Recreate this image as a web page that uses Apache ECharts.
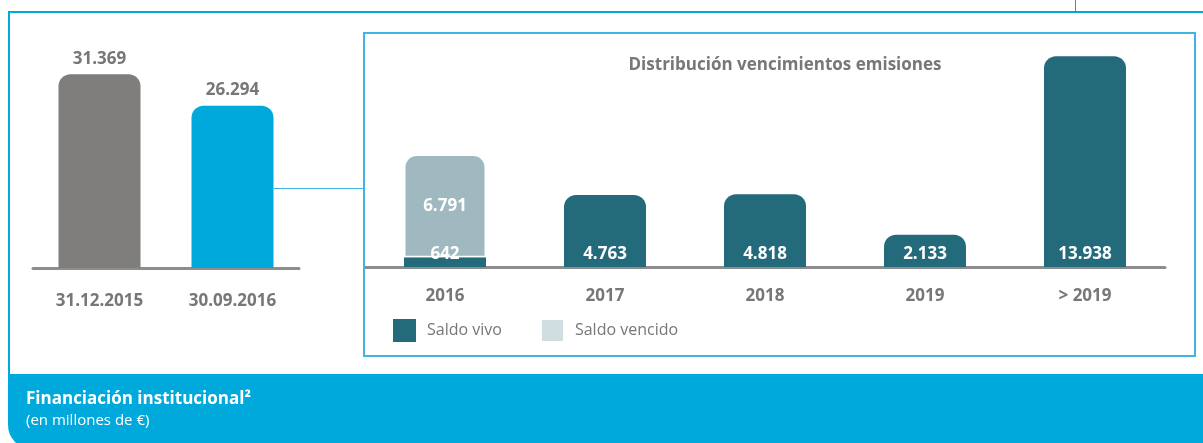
<!DOCTYPE html>
<html>
<head>
<meta charset="utf-8">
<script src="https://cdn.jsdelivr.net/npm/echarts@6/dist/echarts.min.js"></script>
<style>
  html, body { margin: 0; padding: 0; background: #fff; }
  #chart { width: 1203px; height: 443px; }
</style>
</head>
<body>
<div id="chart"></div>
<script>
// left: total balance
const leftCats = ['31.12.2015', '30.09.2016']
const leftValues = [31369, 26294]
// right: maturities
const rightCats = ['2016', '2017', '2018', '2019', '> 2019']
const vivoValues = [642, 4763, 4818, 2133, 13938]
const vencidoValues = [6791, null, null, null, null]

const FONT = '"Open Sans", "Noto Sans", sans-serif'
const GREY_TXT = '#787776'
const TEAL = '#236a7b'
const CYAN = '#00a9dc'

function fmt(v) {
  return String(v).replace(/\B(?=(\d{3})+(?!\d))/g, '.')
}

const chart = echarts.init(document.getElementById('chart'))

const leftColors = ['#7f7e7c', CYAN]

const option = {
  animation: false,
  textStyle: { fontFamily: FONT },
  title: [{
    text: 'Distribución vencimientos emisiones',
    left: 780,
    top: 52,
    textAlign: 'center',
    textStyle: { fontFamily: FONT, fontSize: 17, fontWeight: 'bold', color: GREY_TXT }
  }],
  legend: {
    left: 393,
    top: 318,
    padding: 0,
    itemWidth: 23,
    itemHeight: 23,
    itemGap: 38,
    icon: 'rect',
    textStyle: { fontFamily: FONT, fontSize: 16, color: GREY_TXT, padding: [0, 0, 0, 6] },
    data: [
      { name: 'Saldo vivo', itemStyle: { color: TEAL } },
      { name: 'Saldo vencido', itemStyle: { color: '#d0dde1' } }
    ]
  },
  grid: [
    { left: 33, width: 266, top: 21, bottom: 175 },
    { left: 365, width: 800, top: 25, bottom: 176 }
  ],
  xAxis: [{
    type: 'category',
    gridIndex: 0,
    data: leftCats,
    axisTick: { show: false },
    axisLine: { lineStyle: { color: '#8d8d8d', width: 3 } },
    axisLabel: { margin: 25, fontFamily: FONT, fontSize: 17, fontWeight: 'bold', color: GREY_TXT }
  }, {
    type: 'category',
    gridIndex: 1,
    data: rightCats,
    axisTick: { show: false },
    axisLine: { lineStyle: { color: '#8d8d8d', width: 3 } },
    axisLabel: { margin: 21, fontFamily: FONT, fontSize: 17, fontWeight: 'bold', color: GREY_TXT }
  }],
  yAxis: [{
    type: 'value',
    gridIndex: 0,
    min: 0,
    max: 40000,
    show: false
  }, {
    type: 'value',
    gridIndex: 1,
    min: 0,
    max: 16000,
    show: false
  }],
  series: [{
    type: 'bar',
    xAxisIndex: 0,
    yAxisIndex: 0,
    barWidth: 82,
    data: leftValues.map((v, i) => ({
      value: v,
      itemStyle: { color: leftColors[i], borderRadius: [12, 12, 0, 0] }
    })),
    label: {
      show: true,
      position: 'top',
      distance: 7,
      formatter: p => fmt(p.value),
      fontFamily: FONT, fontSize: 17, fontWeight: 'bold', color: GREY_TXT
    }
  }, {
    name: 'Saldo vivo',
    type: 'bar',
    xAxisIndex: 1,
    yAxisIndex: 1,
    stack: 'v',
    barWidth: 82,
    itemStyle: { color: TEAL },
    data: vivoValues.map((v, i) => ({
      value: v,
      itemStyle: { borderRadius: vencidoValues[i] ? 0 : [12, 12, 0, 0] }
    })),
    label: {
      show: true,
      position: 'insideBottom',
      distance: 4,
      formatter: p => fmt(p.value),
      fontFamily: FONT, fontSize: 17, fontWeight: 'bold', color: '#fff'
    }
  }, {
    name: 'Saldo vencido',
    type: 'bar',
    xAxisIndex: 1,
    yAxisIndex: 1,
    stack: 'v',
    barWidth: 82,
    itemStyle: { color: '#a0b9c0', borderRadius: [12, 12, 0, 0], borderColor: '#fff', borderWidth: 1.5 },
    data: vencidoValues,
    label: {
      show: true,
      position: 'inside',
      formatter: p => fmt(p.value),
      fontFamily: FONT, fontSize: 17, fontWeight: 'bold', color: '#fff'
    }
  }],
  graphic: [
    // outer frame
    { type: 'polyline', shape: { points: [[1210, 12], [9, 12], [9, 376]] },
      style: { stroke: CYAN, lineWidth: 2, fill: null }, z: 1 },
    { type: 'line', shape: { x1: 1075.5, y1: 0, x2: 1075.5, y2: 12 },
      style: { stroke: CYAN, lineWidth: 1 } },
    // inner box
    { type: 'rect', shape: { x: 364, y: 33, width: 831, height: 323 },
      style: { stroke: '#3fb5e2', lineWidth: 2, fill: null }, z: 1 },
    // connector
    { type: 'line', shape: { x1: 274, y1: 188.5, x2: 364, y2: 188.5 },
      style: { stroke: '#3fb5e2', lineWidth: 1.2 } },
    // bottom band
    { type: 'rect', shape: { x: 8, y: 374, width: 1200, height: 75, r: [0, 0, 0, 24] },
      style: { fill: CYAN }, z: 1 },
    { type: 'text', left: 26, top: 391,
      style: { text: 'Financiación institucional²', fill: '#fff',
        font: 'bold 17px "Open Sans", "Noto Sans", sans-serif' }, z: 2 },
    { type: 'text', left: 26, top: 413,
      style: { text: '(en millones de €)', fill: '#fff',
        font: '15px "Open Sans", "Noto Sans", sans-serif' }, z: 2 }
  ]
}

chart.setOption(option)
window.onresize = () => {
  chart.resize()
}
</script>
</body>
</html>
